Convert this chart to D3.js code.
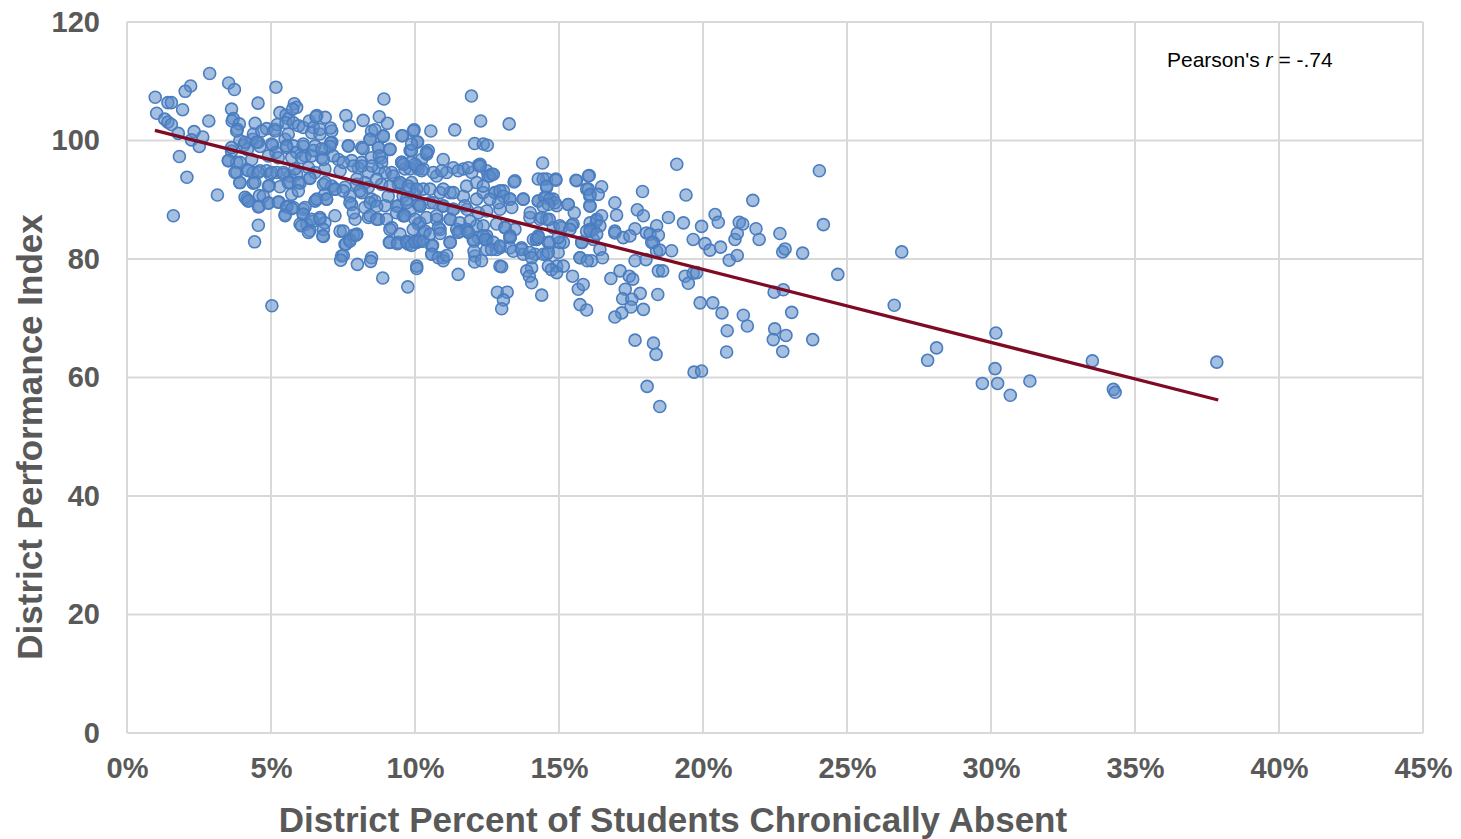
<!DOCTYPE html>
<html>
<head>
<meta charset="utf-8">
<script src="https://cdn.jsdelivr.net/npm/d3@7"></script>
<style>
    html, body { margin: 0; padding: 0; background: #fff; }
    svg { display: block; }
</style>
</head>
<body>
<div id="chart"></div>
<script>
// Chronic absence vs performance index, one dot per district
// [percent chronically absent, performance index]
const districts = [
    // far left block
    [0.98,107.3],[2.87,111.3],[2.21,109.2],[2.02,108.3],[3.53,109.7],[3.73,108.6],[1.42,106.4],[1.54,106.4],
    [1.03,104.6],[1.31,103.6],[1.42,103.1],[1.54,102.7],[1.93,105.2],[2.84,103.3],[1.78,101.2],[2.33,101.5],
    [2.63,100.6],[2.24,100.1],[2.51,99.0],[1.82,97.3],[2.08,93.8],[3.14,90.8],[1.61,87.3],[4.55,106.3],
    [5.17,109.0],[5.81,106.2],[5.89,105.6],[3.63,105.3],[3.69,103.7],[3.65,103.3],[3.9,102.8],[3.83,101.9],
    [4.45,102.9],[4.85,102.0],[5.13,101.9],[5.22,102.7],[5.31,104.7],[5.52,104.3],[5.61,103.7],[5.75,105.3],
    [5.52,103.0],[5.78,103.0],[5.96,102.5],[6.12,102.2],[6.33,103.3],[6.47,102.2],[6.59,104.2],[3.92,100.0],
    [4.06,99.2],[4.36,100.2],[4.56,99.7],[4.62,99.0],[4.18,98.5],[5.06,99.2],[5.17,98.0],[5.49,100.2],
    [5.55,98.8],[5.78,99.1],[5.89,98.0],[6.12,99.0],[6.18,97.4],[3.52,96.6],[3.81,96.3],[3.63,98.2],
    [3.81,94.6],[3.92,92.9],[4.38,92.8],[4.16,95.1],[4.38,94.6],[4.62,94.9],[4.85,94.9],[4.97,94.3],
    [5.2,94.6],[5.43,94.3],[5.66,94.0],[5.89,94.3],[4.94,92.4],[5.31,92.2],[5.66,92.9],[6.01,92.8],
    [6.35,93.7],[4.16,90.1],[4.21,89.8],[4.6,90.7],[4.91,89.5],[5.28,89.6],[5.55,88.9],[5.78,88.7],
    [6.12,88.4],[6.53,89.8],[4.6,88.9],[5.49,87.5],[6.12,87.5],[6.47,86.4],[6.24,85.9],[4.56,85.7],
    [6.01,85.9],[6.35,84.8],[4.43,82.9],[5.03,72.1],
    // extra dots in the 3.5% - 10% cloud
    [3.81,101.6],[4.39,101.1],[4.68,101.6],[5.14,101.6],[5.6,101.1],[6.41,101.3],[6.7,101.1],[7.11,101.6],
    [8.49,101.6],[8.9,100.8],[9.54,100.8],[9.94,101.6],[3.63,98.8],[4.1,99.7],[4.5,99.7],[5.02,99.4],
    [5.54,99.1],[6.12,99.4],[6.53,99.1],[6.87,98.5],[7.11,99.7],[7.68,99.1],[8.15,98.8],[8.44,100.2],
    [8.73,98.8],[9.13,98.5],[9.83,98.3],[10.09,99.7],[3.52,96.6],[3.92,96.3],[4.33,96.8],[4.91,97.4],
    [5.25,97.1],[5.72,97.1],[6.06,97.1],[6.41,97.4],[6.76,97.1],[7.34,96.8],[7.8,96.6],[8.15,96.3],
    [8.49,97.1],[8.84,97.1],[9.54,96.3],[9.88,96.3],[10.23,96.8],[3.75,94.6],[4.21,94.9],[4.56,94.6],
    [5.02,94.6],[5.43,94.6],[5.83,95.2],[6.3,95.4],[6.53,94.6],[6.87,95.2],[7.4,94.9],[8.03,95.4],
    [8.38,94.6],[8.73,95.2],[9.19,94.6],[9.65,95.2],[10.11,95.2],[3.92,92.9],[4.44,92.9],[4.91,92.3],
    [5.6,92.9],[5.95,92.9],[6.35,93.6],[6.82,92.6],[7.11,92.3],[7.57,92.1],[7.97,92.6],[8.38,92.1],
    [8.84,92.6],[9.42,92.6],[9.88,92.9],[4.1,90.4],[4.73,90.6],[5.72,90.9],[5.95,91.5],[6.87,90.9],
    [7.22,91.8],[7.74,90.6],[8.15,91.2],[8.49,90.1],[9.07,90.6],[9.59,90.6],[10.0,90.9],[4.21,89.8],
    [4.56,88.8],[4.91,89.4],[5.25,89.6],[5.54,88.8],[5.72,88.5],[6.18,88.7],[6.53,89.8],[6.93,90.1],
    [7.8,89.2],[8.26,88.7],[8.61,89.8],[8.96,89.0],[9.42,89.0],[9.83,88.1],[10.11,89.2],[5.49,87.3],
    [6.12,87.6],[6.41,86.7],[6.7,87.0],[6.87,86.1],[7.22,87.3],[7.92,86.7],[8.38,87.0],[8.73,86.7],
    [9.19,85.3],[9.59,87.3],[10.11,85.9],[6.06,85.6],[6.3,84.5],[6.82,83.8],[7.4,84.7],[7.86,84.0],
    [7.57,82.5],[7.74,83.3],[9.13,82.8],[9.42,82.8],[9.77,82.5],[10.06,82.8],[7.45,80.5],[8.49,80.2],
    // 6% - 12.5%
    [8.92,107.0],[11.96,107.5],[12.28,103.3],[11.38,101.8],[10.55,101.6],[9.97,101.8],[9.57,100.8],[10.08,99.8],
    [12.07,99.5],[12.37,99.4],[12.51,99.2],[7.6,104.2],[7.72,102.5],[8.2,103.4],[8.76,104.0],[9.04,102.9],
    [8.61,101.8],[8.9,100.7],[8.44,100.2],[7.07,102.1],[6.88,103.9],[6.56,104.0],[6.7,101.9],[7.07,99.6],
    [7.05,99.0],[7.69,99.1],[8.2,98.6],[8.73,98.8],[9.13,98.5],[9.88,98.3],[10.46,98.3],[10.41,97.7],
    [8.76,97.4],[8.84,96.3],[10.98,96.8],[11.33,95.4],[11.68,95.2],[12.2,95.8],[11.97,94.6],[12.49,94.9],
    [6.47,98.3],[6.76,98.6],[7.16,97.4],[6.82,96.8],[7.51,96.3],[7.86,95.7],[8.15,95.7],[8.5,95.7],
    [8.96,94.6],[9.54,96.3],[9.83,95.2],[10.06,95.7],[10.29,95.2],[10.75,94.0],[11.1,94.6],[9.25,94.0],
    [9.48,92.9],[9.13,92.3],[8.67,93.5],[8.26,92.9],[7.98,93.5],[6.88,92.9],[7.23,91.8],[7.51,91.5],
    [8.09,91.5],[9.83,91.8],[10.29,91.8],[10.87,91.2],[11.22,91.2],[11.68,90.6],[12.14,90.1],[12.37,91.2],
    [6.59,90.1],[6.93,90.1],[7.74,89.5],[8.44,89.5],[8.67,88.9],[9.36,88.9],[9.71,90.1],[10.17,88.9],
    [10.52,89.5],[10.98,88.9],[11.33,88.4],[11.8,88.4],[7.86,87.8],[8.44,87.3],[8.67,86.7],[9.01,86.7],
    [9.36,87.8],[9.6,87.3],[10.17,86.1],[10.75,86.7],[11.22,86.7],[11.45,85.0],[12.14,85.6],[6.7,86.7],
    [6.82,85.0],[7.51,84.7],[7.98,84.2],[9.13,85.0],[9.48,84.2],[10.29,84.4],[10.87,85.0],[11.8,84.7],
    [12.49,83.9],
    // extra dots in the 9.5% - 16.5% cloud
    [9.88,99.4],[10.4,98.0],[9.6,96.0],[10.0,96.0],[10.23,94.9],[10.64,94.6],[10.93,94.9],[11.5,94.9],
    [11.85,95.4],[12.26,96.0],[12.66,94.3],[13.47,93.2],[14.57,93.5],[14.89,93.5],[15.61,93.2],[16.05,94.1],
    [14.57,92.1],[9.48,92.9],[9.77,92.3],[10.06,91.8],[10.52,91.8],[10.98,91.8],[11.33,91.2],[11.79,92.3],
    [12.14,92.9],[12.54,94.0],[12.78,91.2],[13.07,91.5],[13.3,90.1],[13.76,90.1],[14.28,89.8],[14.57,90.4],
    [14.8,90.1],[14.92,89.0],[15.32,89.2],[15.96,91.8],[16.07,90.6],[16.07,89.0],[9.71,89.5],[10.17,89.0],
    [10.64,89.5],[10.98,89.0],[11.33,88.4],[11.73,89.0],[12.2,87.8],[12.49,88.1],[12.95,88.4],[9.65,87.3],
    [10.0,86.7],[10.4,87.0],[10.75,87.3],[11.22,86.7],[11.56,86.1],[11.91,86.4],[12.37,85.6],[12.83,85.9],
    [9.94,85.0],[10.35,84.7],[10.81,85.3],[11.56,84.7],[11.79,85.0],[12.2,83.6],[13.12,85.3],[13.3,83.6],
    [13.47,85.0],[13.99,87.0],[14.34,86.7],[14.57,86.7],[14.8,85.3],[15.09,85.3],[15.49,85.9],[16.3,86.4],
    [16.19,85.0],[9.71,83.0],[10.17,83.0],[10.58,82.2],[11.22,82.8],[12.02,83.3],[12.49,83.3],[12.95,81.9],
    [13.7,81.9],[14.22,83.3],[14.63,82.8],[15.15,82.8],[15.79,82.8],[16.19,83.3],[10.58,80.8],[10.98,80.2],
    [12.08,80.5],[12.49,81.6],[12.83,81.6],[13.76,80.8],[14.17,80.8],[14.57,80.8],[14.97,81.1],[15.73,80.2],
    [16.13,79.7],[10.06,78.8],[12.95,78.8],[14.05,78.5],[14.92,78.8],
    // lower part 6% - 12.5%
    [6.8,83.9],[7.6,82.5],[7.74,83.0],[7.95,84.0],[7.51,80.6],[7.42,79.8],[8.0,79.1],[8.46,79.6],
    [8.88,76.8],[9.11,82.8],[9.39,82.6],[9.71,82.8],[9.88,82.3],[10.0,82.9],[10.15,83.0],[10.29,83.0],
    [10.61,82.3],[10.59,80.8],[10.81,80.2],[10.98,79.7],[11.1,80.6],[11.22,82.8],[11.5,77.4],[12.05,83.0],
    [12.05,81.3],[12.07,79.5],[12.49,83.2],[10.06,78.4],[9.75,75.3],[10.52,84.2],[10.87,84.3],[11.5,84.5],
    [11.85,84.5],
    // 12% - 18.5%, upper
    [13.27,102.8],[14.43,96.2],[12.6,94.0],[12.72,94.3],[12.26,95.7],[12.37,92.3],[13.44,93.0],[14.28,93.5],
    [14.45,93.5],[14.57,92.3],[14.89,93.3],[15.59,93.3],[16.02,94.0],[16.48,92.2],[16.02,91.8],[16.08,90.9],
    [16.36,90.9],[16.94,89.5],[17.9,91.4],[12.78,91.2],[12.95,91.5],[13.07,90.6],[13.3,90.1],[13.36,88.7],
    [12.9,89.5],[12.6,90.1],[13.76,90.1],[14.28,89.8],[14.5,90.4],[14.68,90.1],[14.86,89.5],[14.63,89.2],
    [14.45,88.9],[15.32,89.2],[15.53,87.8],[16.08,88.9],[17.0,87.4],[17.72,88.3],[17.93,87.3],[14.0,87.8],
    [14.4,87.0],[14.66,86.7],[15.03,85.6],[15.44,85.7],[16.08,86.1],[16.31,86.7],[16.48,87.3],[16.42,85.6],
    [16.08,85.0],[16.94,84.7],[17.64,85.1],[18.04,84.4],[18.39,85.6],[13.13,85.3],[13.3,83.9],[14.28,83.9],
    [14.11,83.3],[12.37,83.9],
    // 12% - 18.5%, lower
    [12.43,83.3],[12.72,82.8],[12.66,81.6],[12.95,82.2],[13.3,83.6],[13.3,81.9],[13.41,81.3],[13.7,81.6],
    [13.99,81.1],[14.05,80.2],[14.22,83.3],[14.28,83.6],[14.45,80.8],[14.63,81.1],[14.68,82.8],[15.03,82.8],
    [14.97,83.6],[15.38,85.0],[15.79,82.8],[15.96,84.7],[16.08,84.7],[16.31,84.2],[16.42,81.6],[16.51,80.2],
    [16.94,84.4],[17.23,83.6],[17.46,83.9],[18.16,84.2],[18.28,82.8],[18.39,81.3],[12.31,79.7],[13.01,78.7],
    [13.88,78.0],[13.97,77.1],[14.05,76.0],[14.63,78.8],[14.74,78.2],[14.92,77.7],[15.15,78.8],[15.47,77.1],
    [15.73,80.2],[15.98,79.7],[16.8,76.7],[17.12,78.0],[17.44,77.1],[17.56,76.6],[17.64,79.7],[18.02,79.9],
    [18.45,78.0],[12.86,74.4],[13.2,74.4],[13.07,73.1],[13.01,71.6],[14.4,73.9],[15.67,74.9],[15.84,75.7],
    [15.73,72.3],[15.96,71.4],[17.3,74.9],[17.82,74.2],[17.21,73.3],[17.53,73.2],[17.5,71.9],[17.93,71.5],
    [17.18,70.9],[16.94,70.2],[18.43,74.0],[17.64,66.3],[18.28,65.8],[18.37,63.9],[18.06,58.5],[18.5,55.1],
    // 18.5% - 25%
    [19.09,96.0],[24.04,94.9],[19.41,90.8],[21.73,89.9],[18.8,87.0],[19.32,86.1],[19.95,85.5],[20.42,87.5],
    [20.53,86.2],[21.26,86.2],[21.38,85.9],[21.84,85.1],[22.67,84.3],[24.18,85.8],[18.45,84.0],[18.22,82.8],
    [18.5,81.5],[18.91,81.4],[19.66,83.3],[20.07,82.6],[20.24,81.5],[20.61,82.0],[21.11,83.3],[21.19,84.3],
    [20.91,79.8],[21.19,80.6],[21.95,83.3],[22.77,81.2],[22.85,81.7],[23.46,81.0],[24.68,77.4],[18.6,78.0],
    [19.38,77.1],[19.49,75.9],[19.66,77.6],[19.78,77.7],[22.47,74.4],[22.79,74.8],[19.9,72.6],[20.34,72.6],
    [20.66,70.9],[20.84,67.9],[21.4,70.5],[21.54,68.7],[22.49,68.2],[22.44,66.4],[22.88,67.1],[23.08,71.0],
    [23.81,66.4],[22.77,64.4],[20.82,64.3],[19.69,60.9],[19.95,61.1],
    // high absence tail
    [26.9,81.2],[26.64,72.2],[28.11,65.0],[27.8,62.9],[30.17,67.5],[30.14,61.5],[29.7,59.0],[30.23,59.0],
    [30.67,57.0],[31.35,59.4],[33.52,62.8],[34.25,58.0],[34.31,57.5],[37.84,62.6]
];

// linear trend, end points
const trendX = [0.97, 37.89];
const trendY = [101.7, 56.2];

const xTicks = [0, 5, 10, 15, 20, 25, 30, 35, 40, 45];
const yTicks = [0, 20, 40, 60, 80, 100, 120];

const W = 1461, H = 839;
const m = { top: 22, right: 38, bottom: 106, left: 127 };
const w = W - m.left - m.right;
const h = H - m.top - m.bottom;

const svg = d3.select('#chart').append('svg')
    .attr('width', W)
    .attr('height', H);
const g = svg.append('g').attr('transform', `translate(${m.left},${m.top})`);

const x = d3.scaleLinear().domain([0, 45]).range([0, w]);
const y = d3.scaleLinear().domain([0, 120]).range([h, 0]);

// Grid
g.selectAll('.hgrid')
    .data(yTicks)
    .enter()
    .append('line')
    .attr('x1', 0).attr('x2', w)
    .attr('y1', d => y(d)).attr('y2', d => y(d))
    .attr('stroke', '#d9d9d9')
    .attr('stroke-width', 2);

g.selectAll('.vgrid')
    .data(xTicks)
    .enter()
    .append('line')
    .attr('x1', d => x(d)).attr('x2', d => x(d))
    .attr('y1', 0).attr('y2', h)
    .attr('stroke', '#d9d9d9')
    .attr('stroke-width', 2);

// Axes (labels only, Excel style)
const tickFont = 'Liberation Sans, Arial, sans-serif';

const yAxis = g.append('g')
    .call(d3.axisLeft(y).tickValues(yTicks).tickSize(0).tickPadding(27));
const xAxis = g.append('g')
    .attr('transform', `translate(0,${h})`)
    .call(d3.axisBottom(x).tickValues(xTicks).tickSize(0).tickPadding(24).tickFormat(d => d + '%'));

[xAxis, yAxis].forEach(ax => {
    ax.select('.domain').remove();
    ax.selectAll('text')
        .attr('fill', '#595959')
        .attr('font-family', tickFont)
        .attr('font-weight', 'bold')
        .attr('font-size', '29px');
});

// Dots
g.selectAll('.dot')
    .data(districts)
    .enter()
    .append('circle')
    .attr('cx', d => x(d[0]))
    .attr('cy', d => y(d[1]))
    .attr('r', 6)
    .attr('fill', 'rgba(91,139,201,0.55)')
    .attr('stroke', '#4a7dbf')
    .attr('stroke-width', 1.6);

// Trend line
const line = d3.line()
    .x(d => x(d[0])).y(d => y(d[1]));

g.append('path')
    .datum(trendX.map((v, i) => [v, trendY[i]]))
    .attr('d', line)
    .attr('fill', 'none')
    .attr('stroke', '#7f0a23')
    .attr('stroke-width', 3.3);

// Axis titles
svg.append('text')
    .attr('x', 673)
    .attr('y', 832)
    .attr('text-anchor', 'middle')
    .attr('fill', '#595959')
    .attr('font-family', tickFont)
    .attr('font-weight', 'bold')
    .attr('font-size', '35px')
    .text('District Percent of Students Chronically Absent');

svg.append('text')
    .attr('transform', `translate(42,${437}) rotate(-90)`)
    .attr('text-anchor', 'middle')
    .attr('fill', '#595959')
    .attr('font-family', tickFont)
    .attr('font-weight', 'bold')
    .attr('font-size', '35px')
    .text('District Performance Index');

// Correlation note
const note = svg.append('text')
    .attr('x', 1167)
    .attr('y', 67)
    .attr('fill', '#000')
    .attr('font-family', 'Liberation Sans, Arial, sans-serif')
    .attr('font-size', '21px');
note.append('tspan').text("Pearson's ");
note.append('tspan').attr('font-style', 'italic').text('r');
note.append('tspan').text(' = -.74');
</script>
</body>
</html>
